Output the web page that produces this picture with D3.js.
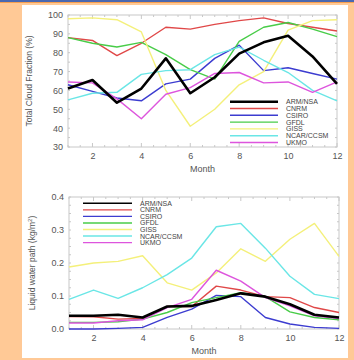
<!DOCTYPE html>
<html><head><meta charset="utf-8">
<script src="https://cdn.jsdelivr.net/npm/d3@7"></script>
<style>
html,body{margin:0;padding:0;background:#FFC996;}
svg{display:block;}
text{font-family:"Liberation Sans",Arial,sans-serif;}
</style></head>
<body><svg id="c" width="354" height="360"></svg>
<script>
const months = [1,2,3,4,5,6,7,8,9,10,11,12];
const seriesNames = ["ARM/NSA","CNRM","CSIRO","GFDL","GISS","NCAR/CCSM","UKMO"];
const seriesColors = ["#000000","#e04848","#3c3cd0","#48cc48","#f4f07a","#6ae6e6","#dd55dd"];

// Total cloud fraction (%)
const cloudARM  = [61,65.5,53.5,61,77,58.5,67,79.5,85.5,89,78,63.5];
const cloudCNRM = [88,86.5,78.5,85,93.5,92.5,95,97,98.5,95.5,93.5,91.5];
const cloudCSIRO= [63,59.5,56,54.5,63.5,66,77,84,70.5,72,69,66];
const cloudGFDL = [88,85,83,85.5,79,71,66,86,93.5,96,92.5,88.5];
const cloudGISS = [98,98.5,97.5,91,60,41,50,63,70,92,97,97.5];
const cloudNCAR = [55,58.5,59,68.5,70.5,71,79,83,76,69.5,60,54.5];
const cloudUKMO = [64.5,64,55.5,45,58,61.5,69,69.5,64,64.5,59,64.5];

// Liquid water path (kg/m2)
const lwpARM  = [0.040,0.040,0.043,0.035,0.068,0.070,0.088,0.108,0.098,0.075,0.043,0.035];
const lwpCNRM = [0.038,0.037,0.030,0.032,0.068,0.068,0.130,0.118,0.098,0.095,0.065,0.050];
const lwpCSIRO= [0.000,0.000,0.002,0.005,0.035,0.060,0.102,0.098,0.035,0.015,0.005,0.002];
const lwpGFDL = [0.020,0.020,0.022,0.030,0.050,0.080,0.095,0.110,0.098,0.052,0.035,0.028];
const lwpGISS = [0.188,0.200,0.205,0.222,0.140,0.118,0.170,0.243,0.205,0.272,0.320,0.220];
const lwpNCAR = [0.090,0.118,0.093,0.125,0.165,0.215,0.310,0.320,0.245,0.160,0.105,0.092];
const lwpUKMO = [0.018,0.018,0.025,0.028,0.065,0.090,0.178,0.145,0.095,0.070,0.040,0.032];

const xTicks = [2,4,6,8,10,12];
const cloudTicks = [30,40,50,60,70,80,90,100];
const lwpTicks = [0.0,0.1,0.2,0.3,0.4];

const svg = d3.select("#c");
// top banner
svg.append("rect").attr("x",0).attr("y",0).attr("width",354).attr("height",2).attr("fill","#4a68b0");
svg.append("rect").attr("x",0).attr("y",2).attr("width",354).attr("height",1).attr("fill","#f7a050");
// white panel
svg.append("rect").attr("x",22).attr("y",5).attr("width",326).attr("height",353).attr("fill","#ffffff");

function panel(cfg){
  const g = svg.append("g");
  const x = d3.scaleLinear().domain([1,12]).range([cfg.left,cfg.right]);
  const y = d3.scaleLinear().domain(cfg.ydom).range([cfg.bottom,cfg.top]);
  // frame
  g.append("rect").attr("x",cfg.left).attr("y",cfg.top).attr("width",cfg.right-cfg.left)
    .attr("height",cfg.bottom-cfg.top).attr("fill","none").attr("stroke","#c8c8c8").attr("stroke-width",1);
  // minor ticks
  const xm = d3.range(1,12.01,0.5);
  g.selectAll(null).data(xm).enter().append("line")
    .attr("x1",d=>x(d)).attr("x2",d=>x(d)).attr("y1",cfg.top).attr("y2",d=>cfg.top+(d%2===0?4:2))
    .attr("stroke","#c8c8c8");
  g.selectAll(null).data(xm).enter().append("line")
    .attr("x1",d=>x(d)).attr("x2",d=>x(d)).attr("y1",cfg.bottom).attr("y2",d=>cfg.bottom-(d%2===0?4:2))
    .attr("stroke","#c8c8c8");
  const ym = d3.range(cfg.ydom[0], cfg.ydom[1]+cfg.minor/2, cfg.minor);
  g.selectAll(null).data(ym).enter().append("line")
    .attr("x1",cfg.left).attr("x2",cfg.left+2).attr("y1",d=>y(d)).attr("y2",d=>y(d)).attr("stroke","#c8c8c8");
  g.selectAll(null).data(ym).enter().append("line")
    .attr("x1",cfg.right).attr("x2",cfg.right-2).attr("y1",d=>y(d)).attr("y2",d=>y(d)).attr("stroke","#c8c8c8");

  // axes via d3
  const xa = g.append("g").attr("transform",`translate(0,${cfg.bottom})`)
    .call(d3.axisBottom(x).tickValues(xTicks).tickSize(0).tickPadding(6).tickFormat(d3.format("d")));
  const ya = g.append("g").attr("transform",`translate(${cfg.left},0)`)
    .call(d3.axisLeft(y).tickValues(cfg.yticks).tickSize(0).tickPadding(5).tickFormat(cfg.yfmt));
  [xa,ya].forEach(a=>{
    a.select(".domain").remove();
    a.selectAll("text").attr("fill","#555").attr("font-size","9px").attr("font-family","Liberation Sans, Arial, sans-serif");
  });
  g.append("text").attr("x",(cfg.left+cfg.right)/2).attr("y",cfg.bottom+25).attr("text-anchor","middle")
    .attr("fill","#555").attr("font-size","9px").text("Month");
  const yl = g.append("text").attr("transform",`translate(${cfg.ylx},${(cfg.top+cfg.bottom)/2}) rotate(-90)`)
    .attr("text-anchor","middle").attr("fill","#555").attr("font-size","8.5px");
  yl.text(cfg.ylabel);
  if(cfg.ysup){ yl.append("tspan").attr("font-size","6px").attr("dy","-3").text(cfg.ysup);
    yl.append("tspan").attr("dy","3").text(")"); }

  const line = d3.line().x((d,i)=>x(months[i])).y(d=>y(d));
  const order = [1,2,3,4,5,6,0];
  order.forEach(k=>{
    g.append("path").datum(cfg.data[k]).attr("d",line).attr("fill","none")
      .attr("stroke",seriesColors[k]).attr("stroke-width",k===0?2.6:1.4).attr("stroke-linejoin","round");
  });
  // legend
  seriesNames.forEach((n,k)=>{
    const ly = cfg.legTop + k*cfg.legStep;
    g.append("line").attr("x1",cfg.legX1).attr("x2",cfg.legX2).attr("y1",ly).attr("y2",ly)
      .attr("stroke",seriesColors[k]).attr("stroke-width",k===0?cfg.legBlackW:1.4);
    g.append("text").attr("x",cfg.legX2+8).attr("y",ly+2.5).attr("fill","#444").attr("font-size","7px").text(n);
  });
}

panel({left:68,right:337,top:15,bottom:147,ydom:[30,100],minor:5,yticks:cloudTicks,yfmt:d3.format("d"),
  ylabel:"Total Cloud Fraction (%)",ylx:32,
  data:[cloudARM,cloudCNRM,cloudCSIRO,cloudGFDL,cloudGISS,cloudNCAR,cloudUKMO],
  legTop:101.7,legStep:6.8,legX1:230,legX2:278,legBlackW:2.4});

panel({left:69,right:339,top:197,bottom:329,ydom:[0,0.4],minor:0.025,yticks:lwpTicks,yfmt:d3.format(".1f"),
  ylabel:"Liquid water path (kg/m",ysup:"2",ylx:35,
  data:[lwpARM,lwpCNRM,lwpCSIRO,lwpGFDL,lwpGISS,lwpNCAR,lwpUKMO],
  legTop:203.3,legStep:6.55,legX1:83,legX2:132,legBlackW:1.5});
</script></body></html>
